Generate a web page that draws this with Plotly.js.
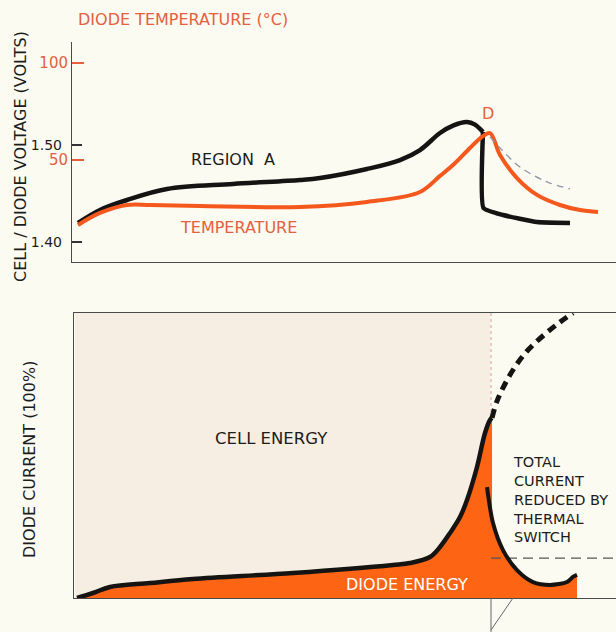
<!DOCTYPE html>
<html>
<head>
<meta charset="utf-8">
<script src="https://cdn.plot.ly/plotly-3.0.1.min.js"></script>
<style>
html,body{margin:0;padding:0;background:#fbfbf1;}
#chart{width:616px;height:632px;}
</style>
</head>
<body>
<div id="chart"></div>
<script>
// ---------- DATA (time in arbitrary units) ----------
// Top panel: cell / diode voltage (volts)
const voltageTime = [6, 28, 55, 95, 161, 228, 248, 295, 328, 348, 368, 381, 395, 403, 411, 411.5, 431, 465, 498];
const voltageVals = [1.4196, 1.4330, 1.4433, 1.4546, 1.4598, 1.4639, 1.4660, 1.4753, 1.4845, 1.4948, 1.5124, 1.5200, 1.5237, 1.5210, 1.5134, 1.4351, 1.4278, 1.4206, 1.4196];
// Top panel: diode temperature (deg C)
const tempTime = [6, 28, 55, 78, 128, 228, 295, 348, 368, 381, 398, 410, 418, 428, 445, 465, 488, 508, 526];
const tempVals = [16.5, 22.7, 26.8, 26.8, 26.3, 25.8, 28.4, 33.5, 41.8, 47.4, 56.2, 61.9, 63.9, 52.6, 40.7, 32.0, 26.8, 24.2, 23.2];
// Top panel: thin dashed continuation (without switch)
const tempNoSwitchTime = [418, 428, 448, 475, 498];
const tempNoSwitchVals = [61.9, 56.2, 46.4, 38.7, 35.1];
// Bottom panel: diode current (%)
const currentTime = [5, 21, 38, 78, 121, 221, 321, 338, 358, 368, 378, 388, 395, 405, 413, 418, 420];
const currentVals = [0, 1.75, 3.86, 5.26, 6.67, 8.77, 11.58, 12.28, 14.39, 17.9, 22.81, 28.4, 34.39, 45.96, 57.89, 62.46, 63.2];
const totalNoSwitchTime = [420, 425, 433, 443, 456, 473, 488, 501];
const totalNoSwitchVals = [63.2, 69.1, 75.1, 81.1, 87.0, 92.6, 96.8, 100];
const reducedTime = [415, 421, 431, 445, 461, 478, 495, 501, 505];
const reducedVals = [38.9, 26.3, 16.8, 9.8, 5.6, 4.6, 5.6, 7.4, 8.1];
const switchTime = 419;
const cellStart = 3, cellEnd = 418, fullScale = 100;
const thresholdLevel = 14.0, thresholdEnd = 544;
// axis ticks
const voltTicks = [1.40, 1.50], voltTickText = ['1.40', '1.50'];
const tempTicks = [50, 100], tempTickText = ['50', '100'];

// ---------- STYLE ----------
const FONT = 'DejaVu Sans, Liberation Sans, sans-serif';
const BLACK = '#161412', RED = '#e5603f', TEMPC = '#f4581c', ORANGE = '#fd6414', BEIGE = '#f6eee2', BG = '#fbfbf1', AX = '#4a4a4a';
const W = 616, H = 632;
const px = v => v / W, py = v => 1 - v / H;

const traces = [
  // top panel
  {x: tempTime, y: tempVals, xaxis: 'x', yaxis: 'y2', mode: 'lines', line: {color: TEMPC, width: 4, shape: 'spline', smoothing: 1}},
  {x: tempNoSwitchTime, y: tempNoSwitchVals, xaxis: 'x', yaxis: 'y2', mode: 'lines', line: {color: '#8c98aa', width: 1.3, dash: '7px,5px', shape: 'spline'}},
  {x: voltageTime.slice(0, 15), y: voltageVals.slice(0, 15), xaxis: 'x', yaxis: 'y', mode: 'lines', line: {color: BLACK, width: 4.5, shape: 'spline', smoothing: 1}},
  {x: voltageTime.slice(14), y: voltageVals.slice(14), xaxis: 'x', yaxis: 'y', mode: 'lines', line: {color: BLACK, width: 4.5, shape: 'spline', smoothing: 0.4}},
  // bottom panel
  {x: [cellStart, cellEnd], y: [fullScale, fullScale], xaxis: 'x2', yaxis: 'y3', mode: 'lines', fill: 'tozeroy', fillcolor: BEIGE, line: {width: 0}},
  {x: currentTime, y: currentVals, xaxis: 'x2', yaxis: 'y3', mode: 'lines', fill: 'tozeroy', fillcolor: ORANGE, line: {width: 0, shape: 'spline', smoothing: 1}},
  {x: reducedTime, y: reducedVals, xaxis: 'x2', yaxis: 'y3', mode: 'lines', fill: 'tozeroy', fillcolor: ORANGE, line: {width: 0, shape: 'spline', smoothing: 0.8}},
  {x: [switchTime, thresholdEnd], y: [thresholdLevel, thresholdLevel], xaxis: 'x2', yaxis: 'y3', mode: 'lines', line: {color: '#555', width: 1.2, dash: '10px,6px'}},
  {x: currentTime, y: currentVals, xaxis: 'x2', yaxis: 'y3', mode: 'lines', line: {color: BLACK, width: 4.5, shape: 'spline', smoothing: 1}},
  {x: totalNoSwitchTime, y: totalNoSwitchVals, xaxis: 'x2', yaxis: 'y3', mode: 'lines', line: {color: BLACK, width: 5, dash: '9px,6px', shape: 'spline', smoothing: 1}},
  {x: reducedTime, y: reducedVals, xaxis: 'x2', yaxis: 'y3', mode: 'lines', line: {color: BLACK, width: 4, shape: 'spline', smoothing: 0.8}}
];

const ann = (text, x, y, o) => Object.assign({text, xref: 'paper', yref: 'paper', x: px(x), y: py(y), showarrow: false,
  xanchor: 'center', yanchor: 'middle',
  font: {family: FONT, size: 16, color: '#1c1c1c'}}, o || {});

const layout = {
  width: W, height: H,
  margin: {l: 0, r: 0, t: 0, b: 0},
  paper_bgcolor: BG, plot_bgcolor: 'rgba(0,0,0,0)',
  showlegend: false,
  xaxis: {domain: [px(72), 1], range: [0, 544], anchor: 'y', showline: true, linecolor: AX, linewidth: 1.2,
    showgrid: false, zeroline: false, showticklabels: false, ticks: ''},
  yaxis: {domain: [py(262), py(42)], range: [1.40 - 20 / 970, 1.40 + 200 / 970], anchor: 'x',
    showline: true, linecolor: AX, linewidth: 1.2, showgrid: false, zeroline: false,
    tickmode: 'array', tickvals: voltTicks, ticktext: voltTickText, ticks: 'inside', ticklen: 10, tickwidth: 1.3, tickcolor: '#333',
    ticklabelstandoff: 6, tickfont: {family: FONT, size: 14, color: '#1c1c1c'}},
  yaxis2: {overlaying: 'y', side: 'left', anchor: 'x', range: [(257 - 262) * 50 / 97, (257 - 42) * 50 / 97],
    showline: false, showgrid: false, zeroline: false,
    tickmode: 'array', tickvals: tempTicks, ticktext: tempTickText, ticks: 'inside', ticklen: 12, tickwidth: 1.3, tickcolor: RED,
    ticklabelstandoff: 3, tickfont: {family: FONT, size: 15, color: RED}},
  xaxis2: {domain: [px(74), 1], range: [2, 544], anchor: 'y3', showline: true, mirror: true, linecolor: AX, linewidth: 1.2,
    showgrid: false, zeroline: false, showticklabels: false, ticks: ''},
  yaxis3: {domain: [py(598), py(313)], range: [0, 100], anchor: 'x2', showline: true, linecolor: AX, linewidth: 1.2,
    showgrid: false, zeroline: false, showticklabels: false, ticks: ''},
  shapes: [
    {type: 'line', xref: 'x2', yref: 'y3', x0: switchTime, x1: switchTime, y0: 0, y1: fullScale, layer: 'below',
      line: {color: '#d99a94', width: 1, dash: 'dot'}},
    {type: 'line', xref: 'x2', yref: 'paper', x0: switchTime, x1: switchTime, y0: 0, y1: py(598), line: {color: '#666', width: 1}},
    {type: 'line', xref: 'x2', yref: 'paper', x0: switchTime, x1: switchTime + 22, y0: py(630), y1: py(598), line: {color: '#666', width: 1}}
  ],
  annotations: [
    ann('DIODE TEMPERATURE (°C)', 76, 20, {xanchor: 'left', font: {family: FONT, size: 16, color: RED}}),
    ann('CELL / DIODE VOLTAGE (VOLTS)', 20, 157, {textangle: -90}),
    ann('DIODE CURRENT (100%)', 29, 460, {textangle: -90}),
    ann('REGION  A', 233, 159),
    ann('TEMPERATURE', 238, 228, {font: {family: FONT, size: 16, color: RED}}),
    ann('D', 488, 114, {font: {family: FONT, size: 16, color: RED}}),
    ann('CELL ENERGY', 271, 438, {font: {family: FONT, size: 16.5, color: '#1c1c1c'}}),
    ann('DIODE ENERGY', 407, 584, {font: {family: FONT, size: 16, color: '#ffffff'}}),
    ann('TOTAL<br>CURRENT<br>REDUCED BY<br>THERMAL<br>SWITCH', 511, 499, {xanchor: 'left', align: 'left', font: {family: FONT, size: 14.5, color: '#1c1c1c'}})
  ]
};

Plotly.newPlot('chart', traces, layout, {staticPlot: true, displayModeBar: false});
</script>
</body>
</html>
